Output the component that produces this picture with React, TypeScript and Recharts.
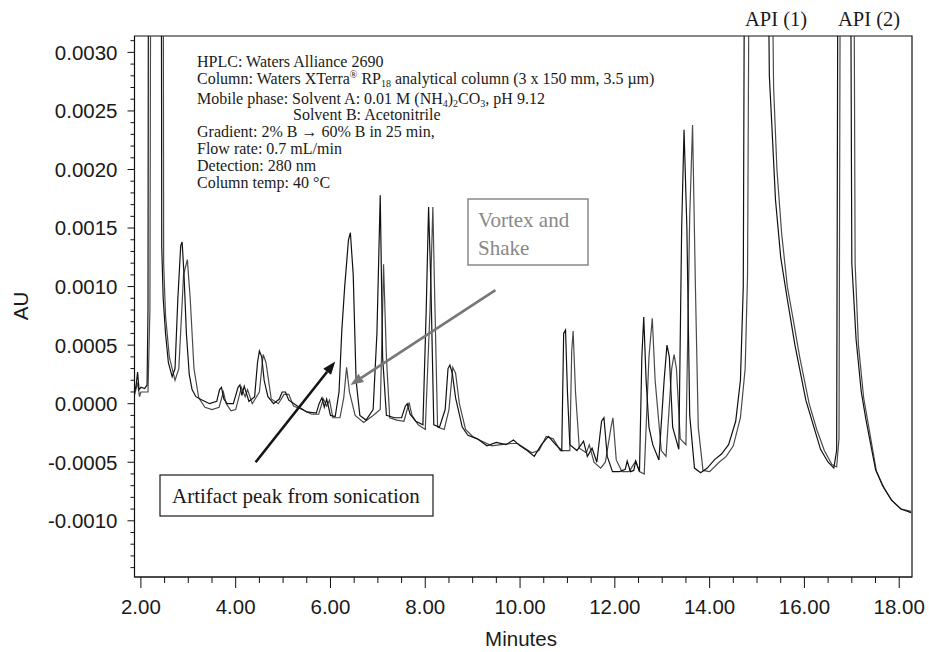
import React from "react";
import { LineChart, Line, XAxis, YAxis, ReferenceArea, ReferenceLine } from "recharts";

// [minutes, AU]
const sonicationTrace: [number, number][] = [
  [1.87, 0.0001], [1.9, 0.00016], [1.93, 0.00027], [1.96, 0.00012], [2.0, 0.00014],
  [2.08, 0.00013], [2.13, 0.00016], [2.15, 0.0008], [2.16, 0.0045], [2.43, 0.0045],
  [2.44, 0.00134], [2.47, 0.0009], [2.52, 0.0006], [2.58, 0.00035], [2.66, 0.00023],
  [2.72, 0.0003], [2.78, 0.0009], [2.84, 0.00135], [2.87, 0.00138], [2.91, 0.0011],
  [2.96, 0.0006], [3.02, 0.00025], [3.08, 0.00012], [3.16, 0.00006], [3.3, 0.00003],
  [3.45, 0.0], [3.6, 0.00002], [3.66, 0.00012], [3.7, 0.00014], [3.75, 0.00004],
  [3.82, 0.0], [3.95, 0.0], [4.05, 0.00014], [4.09, 0.00016], [4.13, 0.00007],
  [4.18, 0.00015], [4.28, 0.00002], [4.4, 0.00006], [4.46, 0.00035], [4.5, 0.00045],
  [4.55, 0.0004], [4.6, 0.0002], [4.68, 0.00006], [4.8, 0.0], [4.92, 0.00004],
  [4.98, 0.0001], [5.05, 0.0001], [5.12, 0.00003], [5.3, -0.00002], [5.5, -0.00007],
  [5.7, -0.00008], [5.76, 0.0], [5.82, 0.00005], [5.87, -0.00003], [5.92, 0.00004],
  [6.0, -0.0001], [6.1, -0.00011], [6.18, 0.0001], [6.24, 0.00063], [6.3, 0.001],
  [6.38, 0.0014], [6.42, 0.00146], [6.48, 0.0011], [6.54, 0.0002], [6.62, -0.0001],
  [6.75, -0.00014], [6.9, -0.00005], [6.98, 0.0006], [7.05, 0.00178], [7.1, 0.0004],
  [7.18, -0.0001], [7.35, -0.00012], [7.5, -0.00012], [7.58, -0.00002], [7.62, 0.0],
  [7.68, -0.00009], [7.8, -0.00015], [7.95, -0.00018], [8.02, 0.0008], [8.07, 0.00168],
  [8.12, 0.001], [8.18, -0.00018], [8.3, -0.0002], [8.42, -0.00005], [8.48, 0.0003],
  [8.52, 0.00033], [8.57, 0.00026], [8.64, 0.00005], [8.78, -0.0002], [8.9, -0.00027],
  [9.1, -0.0003], [9.3, -0.00036], [9.5, -0.00033], [9.7, -0.00035], [9.86, -0.00031],
  [10.0, -0.00036], [10.15, -0.0004], [10.3, -0.00045], [10.45, -0.00035], [10.6, -0.00028],
  [10.75, -0.00035], [10.88, -0.0004], [10.92, 0.0006], [10.96, 0.00063], [11.0, 0.0001],
  [11.05, -0.00035], [11.2, -0.0004], [11.34, -0.00032], [11.42, -0.00045], [11.52, -0.00038],
  [11.62, -0.0005], [11.72, -0.00015], [11.77, -0.00012], [11.84, -0.00045], [11.95, -0.00058],
  [12.1, -0.00058], [12.22, -0.00056], [12.26, -0.00049], [12.33, -0.00058], [12.4, -0.00057],
  [12.44, -0.00049], [12.52, -0.00058], [12.57, 0.0004], [12.61, 0.00074], [12.66, 0.0002],
  [12.72, -0.0002], [12.8, -0.00035], [12.93, -0.00048], [13.04, 0.0002], [13.1, 0.0005],
  [13.15, 0.0004], [13.22, -0.0002], [13.35, -0.00039], [13.41, 0.0015], [13.46, 0.00234],
  [13.52, 0.0015], [13.58, -0.0001], [13.68, -0.00055], [13.81, -0.00059], [13.95, -0.00055],
  [14.1, -0.00048], [14.25, -0.00043], [14.4, -0.00035], [14.55, -0.00015], [14.65, 0.0002],
  [14.71, 0.001], [14.74, 0.0045], [15.22, 0.0045], [15.26, 0.0028], [15.31, 0.0024],
  [15.39, 0.00174], [15.5, 0.00125], [15.64, 0.00089], [15.8, 0.0005], [16.03, 0.00003],
  [16.2, -0.0002], [16.34, -0.00039], [16.5, -0.0005], [16.62, -0.00055], [16.68, -0.0004],
  [16.71, 0.0045], [16.97, 0.0045], [17.0, 0.0012], [17.09, 0.00055], [17.2, 0.0001],
  [17.3, -0.00014], [17.5, -0.00056], [17.65, -0.0007], [17.83, -0.00082], [18.04, -0.0009],
  [18.25, -0.00093],
];

const vortexTrace: [number, number][] = [
  [1.87, 0.00008], [1.93, 0.00018], [1.97, 0.00006], [2.0, 0.0001], [2.15, 0.0001],
  [2.19, 0.0008], [2.21, 0.0045], [2.47, 0.0045], [2.48, 0.0012], [2.52, 0.00075],
  [2.6, 0.0004], [2.72, 0.0002], [2.8, 0.0003], [2.9, 0.0011], [2.98, 0.00123],
  [3.04, 0.0009], [3.12, 0.0003], [3.22, 0.00005], [3.35, -0.00003], [3.5, -0.00005],
  [3.65, -0.00003], [3.74, 0.0001], [3.8, 0.0], [3.9, -0.00006], [4.0, -0.00005],
  [4.12, 0.00014], [4.2, 0.00006], [4.25, 0.00012], [4.35, 0.0], [4.5, 0.0001],
  [4.58, 0.00042], [4.64, 0.00035], [4.75, 0.00004], [4.9, 0.0], [5.02, 0.00008],
  [5.12, 0.00008], [5.22, -0.00002], [5.4, -0.00005], [5.6, -0.00009], [5.75, -0.00009],
  [5.85, 0.00004], [5.92, -0.00002], [5.98, 0.00003], [6.05, -0.00012], [6.2, -0.00012],
  [6.28, 0.00005], [6.34, 0.00031], [6.4, 0.0001], [6.52, -0.0001], [6.7, -0.00016],
  [6.9, -0.0001], [7.05, -0.00005], [7.1, 0.0008], [7.12, 0.00119], [7.18, 0.0004],
  [7.25, -0.00012], [7.4, -0.00014], [7.55, -0.00015], [7.66, 0.00001], [7.72, -0.0001],
  [7.85, -0.00018], [8.0, -0.00022], [8.1, 0.0008], [8.16, 0.00168], [8.2, 0.0009],
  [8.26, -0.0002], [8.4, -0.00022], [8.5, -0.00005], [8.58, 0.00031], [8.64, 0.00026],
  [8.72, 0.0], [8.85, -0.00022], [9.0, -0.00028], [9.2, -0.00032], [9.4, -0.00036],
  [9.6, -0.00035], [9.8, -0.00034], [9.95, -0.00034], [10.1, -0.00038], [10.25, -0.00042],
  [10.4, -0.0004], [10.55, -0.00028], [10.7, -0.0003], [10.85, -0.0004], [11.05, -0.0004],
  [11.09, 0.00045], [11.12, 0.00062], [11.17, 0.0001], [11.25, -0.00038], [11.4, -0.00042],
  [11.46, -0.00035], [11.56, -0.0005], [11.7, -0.00055], [11.8, -0.0005], [11.92, -0.0002],
  [11.96, -0.00012], [12.03, -0.00048], [12.15, -0.00058], [12.3, -0.00058], [12.44, -0.00049],
  [12.52, -0.00058], [12.62, -0.0006], [12.72, 0.0004], [12.79, 0.00073], [12.85, 0.0002],
  [12.98, -0.0004], [13.08, -0.00045], [13.2, 0.0003], [13.25, 0.00042], [13.3, 0.0003],
  [13.38, -0.0003], [13.5, -0.00035], [13.58, 0.0016], [13.64, 0.00238], [13.7, 0.001],
  [13.76, -0.0002], [13.86, -0.00057], [14.0, -0.00058], [14.2, -0.0005], [14.35, -0.00045],
  [14.5, -0.00036], [14.65, -0.00012], [14.75, 0.0003], [14.8, 0.0011], [14.84, 0.0045],
  [15.3, 0.0045], [15.35, 0.0027], [15.42, 0.002], [15.52, 0.00145], [15.64, 0.001],
  [15.75, 0.00075], [15.9, 0.0004], [16.1, 0.0], [16.26, -0.00022], [16.42, -0.0004],
  [16.58, -0.00052], [16.68, -0.00054], [16.73, -0.0003], [16.76, 0.0045], [17.04, 0.0045],
  [17.07, 0.0012], [17.14, 0.0005], [17.25, 0.00005], [17.35, -0.00018], [17.52, -0.00058],
  [17.68, -0.00072], [17.85, -0.00083], [18.04, -0.0009], [18.25, -0.00092],
];

const yMajorTicks = [-0.001, -0.0005, 0, 0.0005, 0.001, 0.0015, 0.002, 0.0025, 0.003];
const yMajorLabels = ["-0.0010", "-0.0005", "0.0000", "0.0005", "0.0010", "0.0015", "0.0020", "0.0025", "0.0030"];
const xMajorTicks = [2, 4, 6, 8, 10, 12, 14, 16, 18];
const xMajorLabels = ["2.00", "4.00", "6.00", "8.00", "10.00", "12.00", "14.00", "16.00", "18.00"];

// arrow endpoints in data units: [tail, head]
const sonicationArrow = [{ x: 4.42, y: -0.0005 }, { x: 6.1, y: 0.00036 }];
const vortexArrow = [{ x: 9.48, y: 0.00097 }, { x: 6.42, y: 0.00016 }];

const X_DOMAIN: [number, number] = [1.865, 18.27];
const Y_DOMAIN: [number, number] = [-0.00148, 0.00314];

const yTicks: number[] = [];
for (let i = -14; i <= 31; i++) yTicks.push(i / 10000);
const xTicks: number[] = [];
for (let i = 4; i <= 36; i++) xTicks.push(i / 2);

const sonicData = sonicationTrace.map(([t, au]) => ({ t, au }));
const vortexData = vortexTrace.map(([t, au]) => ({ t, au }));

const SANS = "'Liberation Sans', Arial, Helvetica, sans-serif";
const SERIF = "'Liberation Serif', 'Times New Roman', Times, serif";

const YTick = (props: any) => {
  const { x, y, payload } = props;
  const idx = yMajorTicks.findIndex((m) => Math.abs(m - payload.value) < 1e-9);
  const major = idx >= 0;
  return (
    <g>
      <line x1={x - (major ? 7 : 4)} x2={x} y1={y} y2={y} stroke="#111" strokeWidth={1} />
      {major && (
        <text x={x - 17} y={y} dy="0.36em" textAnchor="end" fontSize={20.5} fontFamily={SANS} fill="#1a1a1a">
          {yMajorLabels[idx]}
        </text>
      )}
    </g>
  );
};

const XTick = (props: any) => {
  const { x, y, payload } = props;
  const idx = xMajorTicks.findIndex((m) => Math.abs(m - payload.value) < 1e-9);
  const major = idx >= 0;
  return (
    <g>
      <line x1={x} x2={x} y1={y} y2={y + (major ? 11 : 6)} stroke="#111" strokeWidth={1} />
      {major && (
        <text x={x} y={y + 37} textAnchor="middle" fontSize={20.5} fontFamily={SANS} fill="#1a1a1a">
          {xMajorLabels[idx]}
        </text>
      )}
    </g>
  );
};

const arrowShape = (color: string) => (props: any) => {
  const { x1, y1, x2, y2 } = props;
  const dx = x2 - x1;
  const dy = y2 - y1;
  const len = Math.hypot(dx, dy) || 1;
  const ux = dx / len;
  const uy = dy / len;
  const hl = 13;
  const hw = 5;
  const bx = x2 - ux * hl;
  const by = y2 - uy * hl;
  return (
    <g>
      <line x1={x1} y1={y1} x2={bx} y2={by} stroke={color} strokeWidth={2.6} />
      <polygon
        points={`${x2},${y2} ${bx - uy * hw},${by + ux * hw} ${bx + uy * hw},${by - ux * hw}`}
        fill={color}
      />
    </g>
  );
};

export default function App() {
  return (
    <div style={{ position: "absolute", left: 0, top: 0, width: 929, height: 652, background: "#fff" }}>
      <LineChart width={929} height={652} margin={{ top: 36, right: 17, bottom: 0, left: 0 }}>
        <XAxis
          type="number"
          dataKey="t"
          domain={X_DOMAIN}
          allowDataOverflow
          ticks={xTicks}
          interval={0}
          tick={<XTick />}
          tickLine={false}
          tickSize={0}
          tickMargin={0}
          height={75}
          axisLine={{ stroke: "#111" }}
        />
        <YAxis
          type="number"
          domain={Y_DOMAIN}
          allowDataOverflow
          ticks={yTicks}
          interval={0}
          tick={<YTick />}
          tickLine={false}
          tickSize={0}
          tickMargin={0}
          width={134.5}
          axisLine={{ stroke: "#111" }}
        />
        <ReferenceArea
          x1={X_DOMAIN[0]}
          x2={X_DOMAIN[1]}
          y1={Y_DOMAIN[0]}
          y2={Y_DOMAIN[1]}
          fill="none"
          fillOpacity={0}
          stroke="#111"
          strokeWidth={1.2}
        />
        <Line
          data={vortexData}
          dataKey="au"
          type="linear"
          stroke="#4a4a4a"
          strokeWidth={1.2}
          dot={false}
          isAnimationActive={false}
        />
        <Line
          data={sonicData}
          dataKey="au"
          type="linear"
          stroke="#111111"
          strokeWidth={1.2}
          dot={false}
          isAnimationActive={false}
        />
        <ReferenceLine segment={sonicationArrow} ifOverflow="visible" shape={arrowShape("#151515")} />
        <ReferenceLine segment={vortexArrow} ifOverflow="visible" shape={arrowShape("#777777")} />
      </LineChart>

      <svg
        width={929}
        height={652}
        style={{ position: "absolute", left: 0, top: 0, pointerEvents: "none" }}
      >
        <g fontFamily={SERIF} fontSize={16} fill="#1a1a1a">
          <text x={197} y={67}>HPLC: Waters Alliance 2690</text>
          <text x={197} y={84}>
            Column: Waters XTerra<tspan dy={-6} fontSize={10}>®</tspan>
            <tspan dy={6}> RP</tspan>
            <tspan dy={3} fontSize={10}>18</tspan>
            <tspan dy={-3}> analytical column (3 x 150 mm, 3.5 µm)</tspan>
          </text>
          <text x={197} y={104}>
            Mobile phase: Solvent A: 0.01 M (NH<tspan dy={3} fontSize={10}>4</tspan>
            <tspan dy={-3}>)</tspan>
            <tspan dy={3} fontSize={10}>2</tspan>
            <tspan dy={-3}>CO</tspan>
            <tspan dy={3} fontSize={10}>3</tspan>
            <tspan dy={-3}>, pH 9.12</tspan>
          </text>
          <text x={293} y={120}>Solvent B: Acetonitrile</text>
          <text x={197} y={137}>Gradient: 2% B → 60% B in 25 min,</text>
          <text x={197} y={154}>Flow rate: 0.7 mL/min</text>
          <text x={197} y={171}>Detection: 280 nm</text>
          <text x={197} y={188}>Column temp: 40 °C</text>
        </g>

        <g fontFamily={SERIF} fontSize={20.5} fill="#1a1a1a" textAnchor="middle">
          <text x={776} y={26}>API (1)</text>
          <text x={869} y={26}>API (2)</text>
        </g>

        <rect x={468} y={199} width={120} height={66} fill="#fff" stroke="#888" strokeWidth={1.5} />
        <g fontFamily={SERIF} fontSize={21} fill="#888">
          <text x={478} y={227}>Vortex and</text>
          <text x={478} y={255}>Shake</text>
        </g>

        <rect x={160} y={475} width={273} height={41} fill="#fff" stroke="#1a1a1a" strokeWidth={1.2} />
        <text x={172} y={503} fontFamily={SERIF} fontSize={21} fill="#1a1a1a">
          Artifact peak from sonication
        </text>

        <text x={521} y={646} textAnchor="middle" fontFamily={SANS} fontSize={20.5} fill="#1a1a1a">
          Minutes
        </text>
        <text
          x={28}
          y={306}
          textAnchor="middle"
          transform="rotate(-90 28 306)"
          fontFamily={SANS}
          fontSize={20.5}
          fill="#1a1a1a"
        >
          AU
        </text>
      </svg>
    </div>
  );
}
